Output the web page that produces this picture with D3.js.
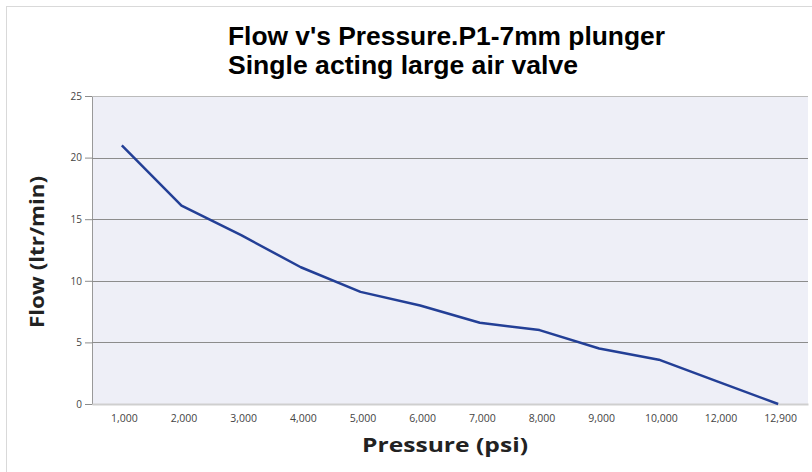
<!DOCTYPE html>
<html>
<head>
<meta charset="utf-8">
<script src="https://cdn.jsdelivr.net/npm/d3@7"></script>
<style>
	body { margin: 0; background: #fff; }
	svg { display: block; }
</style>
</head>
<body>
<div id="graph"></div>
<script>
// Flow vs pressure readings
var pressures = ["1,000", "2,000", "3,000", "4,000", "5,000", "6,000",
	"7,000", "8,000", "9,000", "10,000", "12,000", "12,900"];
var flows = [21, 16.1, 13.7, 11.1, 9.1, 8.0, 6.6, 6.0, 4.5, 3.6, 1.8, 0];
var flow_ticks = [0, 5, 10, 15, 20, 25];
var title_lines = ["Flow v's Pressure.P1-7mm plunger", "Single acting large air valve"];

var W = 812, H = 472;
var margin = {top: 96, right: 4, bottom: 68, left: 92};
var width = W - margin.left - margin.right;
var height = H - margin.top - margin.bottom;
var font = "'Open Sans', 'Noto Sans', sans-serif";
var title_font = "'Liberation Sans Narrow', 'Liberation Sans', Arial, sans-serif";

var svg = d3.select("#graph").append("svg")
	.attr("width", W)
	.attr("height", H);

// outer chart border
svg.append("rect")
	.attr("x", 6.5)
	.attr("y", 6.5)
	.attr("width", W + 20)
	.attr("height", H + 20)
	.attr("fill", "#fff")
	.attr("stroke", "#d9d9d9");

var g = svg.append("g")
	.attr("transform", "translate(" + margin.left + "," + margin.top + ")");

var scale_p = d3.scalePoint()
	.domain(pressures)
	.range([0, width])
	.padding(0.5);
var scale_f = d3.scaleLinear()
	.domain([0, 25])
	.range([height, 0]);

// plot background
g.append("rect")
	.attr("width", width)
	.attr("height", height)
	.attr("fill", "#eeeff7");

// left axis with outer ticks
var yAxis = g.append("g")
	.call(d3.axisLeft(scale_f).tickValues(flow_ticks).tickSize(7).tickPadding(3));
yAxis.select(".domain").attr("stroke", "#999");
yAxis.selectAll(".tick line").attr("stroke", "#8c8c8c");
yAxis.selectAll(".tick text")
	.style("font-family", font)
	.style("font-size", "10px")
	.attr("fill", "#444");

// horizontal gridlines
g.append("g")
	.selectAll("line")
	.data(flow_ticks.filter(function(d) { return d > 0; }))
	.enter()
	.append("line")
	.attr("x1", 0)
	.attr("x2", width)
	.attr("y1", function(d) { return Math.round(scale_f(d)) + 0.5; })
	.attr("y2", function(d) { return Math.round(scale_f(d)) + 0.5; })
	.attr("stroke", function(d) { return d == 25 ? "#bbb" : "#8c8c8c"; });

// bottom axis
var xAxis = g.append("g")
	.attr("transform", "translate(0," + height + ")")
	.call(d3.axisBottom(scale_p).tickSize(0).tickPadding(11));
xAxis.select(".domain").attr("stroke", "#cfcfcf").attr("stroke-width", 2);
xAxis.selectAll(".tick text")
	.attr("dx", 2)
	.style("font-family", font)
	.style("font-size", "10.5px")
	.attr("fill", "#444");

// flow curve
var line = d3.line()
	.x(function(d, i) { return scale_p(pressures[i]); })
	.y(function(d) { return scale_f(d); });

g.append("path")
	.attr("fill", "none")
	.attr("stroke", "#233f96")
	.attr("stroke-width", 2.5)
	.attr("stroke-linejoin", "round")
	.attr("d", line(flows));

// titles
var title_len = [437, 350];
svg.selectAll(".title")
	.data(title_lines)
	.enter()
	.append("text")
	.attr("class", "title")
	.attr("x", 228)
	.attr("y", function(d, i) { return 45 + i * 29; })
	.attr("textLength", function(d, i) { return title_len[i]; })
	.attr("lengthAdjust", "spacingAndGlyphs")
	.style("font-family", title_font)
	.style("font-weight", "bold")
	.style("font-size", "25px")
	.attr("fill", "#000")
	.text(function(d) { return d; });

svg.append("text")
	.attr("x", 445)
	.attr("y", 452)
	.attr("text-anchor", "middle")
	.attr("textLength", 166)
	.attr("lengthAdjust", "spacingAndGlyphs")
	.style("font-family", font)
	.style("font-weight", "bold")
	.style("font-size", "19px")
	.attr("fill", "#222")
	.text("Pressure (psi)");

svg.append("text")
	.attr("transform", "translate(44,252) rotate(-90)")
	.attr("text-anchor", "middle")
	.attr("textLength", 152)
	.attr("lengthAdjust", "spacingAndGlyphs")
	.style("font-family", font)
	.style("font-weight", "bold")
	.style("font-size", "19px")
	.attr("fill", "#222")
	.text("Flow (ltr/min)");
</script>
</body>
</html>
